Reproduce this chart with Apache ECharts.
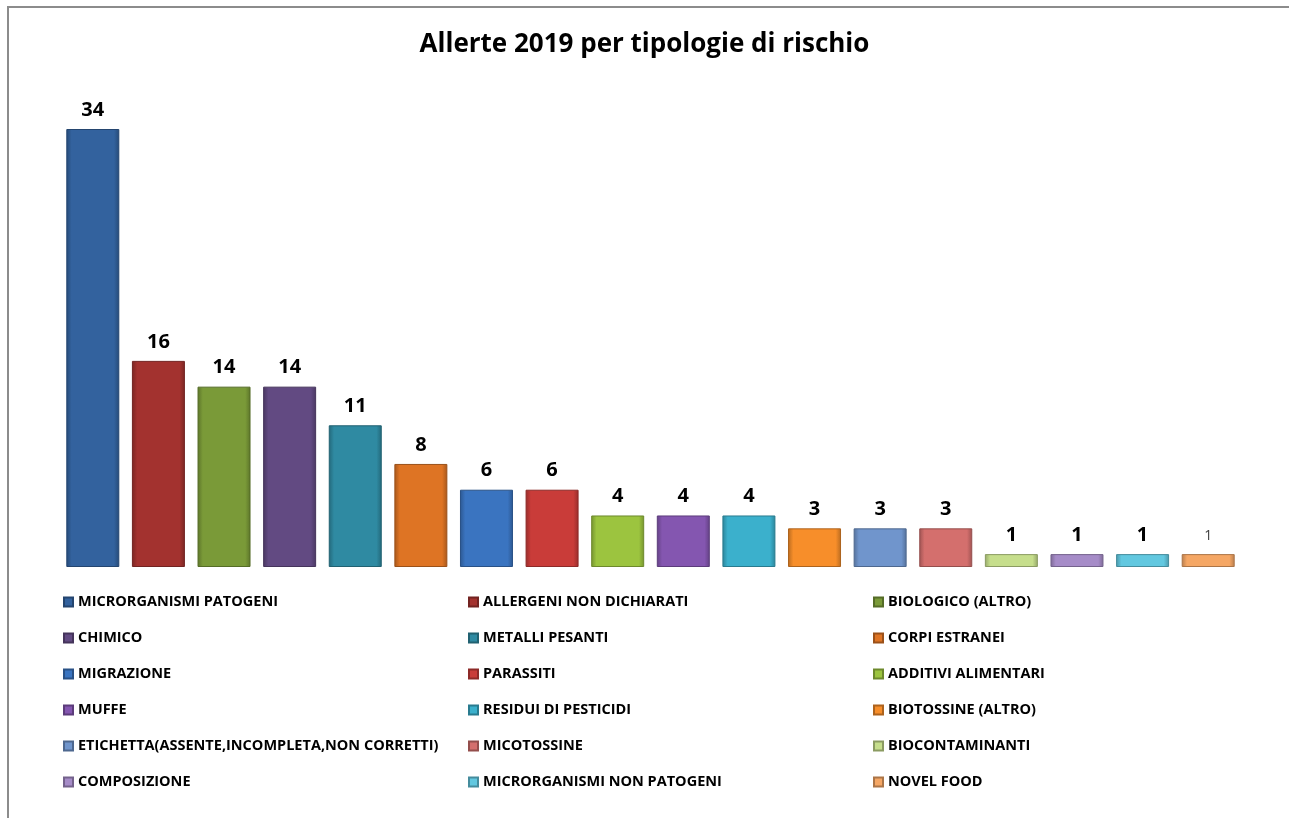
<!DOCTYPE html>
<html>
<head>
<meta charset="utf-8">
<title>Allerte 2019 per tipologie di rischio</title>
<script src="https://cdn.jsdelivr.net/npm/echarts@6/dist/echarts.min.js"></script>
<style>
  html, body { margin: 0; padding: 0; background: #fff; }
  .frame {
    position: absolute;
    left: 7px;
    top: 6px;
    width: 1282px;
    height: 812px;
    border-left: 2px solid #8c8c8c;
    border-top: 2px solid #8c8c8c;
  }
  #chart { position: absolute; left: 0; top: 0; width: 1289px; height: 818px; }
</style>
</head>
<body>
<div class="frame"></div>
<div id="chart"></div>
<script>
const categories = [
  'MICRORGANISMI PATOGENI', 'ALLERGENI NON DICHIARATI', 'BIOLOGICO (ALTRO)',
  'CHIMICO', 'METALLI PESANTI', 'CORPI ESTRANEI',
  'MIGRAZIONE', 'PARASSITI', 'ADDITIVI ALIMENTARI',
  'MUFFE', 'RESIDUI DI PESTICIDI', 'BIOTOSSINE (ALTRO)',
  'ETICHETTA(ASSENTE,INCOMPLETA,NON CORRETTI)', 'MICOTOSSINE', 'BIOCONTAMINANTI',
  'COMPOSIZIONE', 'MICRORGANISMI NON PATOGENI', 'NOVEL FOOD',
]
const values = [34, 16, 14, 14, 11, 8, 6, 6, 4, 4, 4, 3, 3, 3, 1, 1, 1, 1]

const palette = [
  '#33629e', '#a3322f', '#7a9a38', '#624a82', '#2f8aa2', '#de7424',
  '#3a74c0', '#c93c39', '#9cc43f', '#8456b0', '#3bb0cc', '#f78e2a',
  '#7095cc', '#d46f6d', '#c6de8c', '#a68cc8', '#62c8e0', '#f5a765',
]

const shade = (hex, f) => {
  const n = parseInt(hex.slice(1), 16)
  const ch = [(n >> 16) & 255, (n >> 8) & 255, n & 255].map((c) =>
    Math.max(0, Math.min(255, Math.round(f < 0 ? c * (1 + f) : c + (255 - c) * f)))
  )
  return 'rgb(' + ch.join(',') + ')'
}

const barFill = (hex) =>
  new echarts.graphic.LinearGradient(0, 0, 1, 0, [
    { offset: 0, color: shade(hex, -0.25) },
    { offset: 0.1, color: hex },
    { offset: 0.9, color: hex },
    { offset: 1, color: shade(hex, -0.25) },
  ])

const series = categories.map((name, i) => {
  const last = i === categories.length - 1
  return {
    name,
    type: 'bar',
    stack: 'all',
    barWidth: 53,
    data: values.map((v, j) => (j === i ? v : '-')),
    itemStyle: {
      color: barFill(palette[i]),
      borderColor: shade(palette[i], -0.3),
      borderWidth: 1,
    },
    label: {
      show: true,
      position: 'top',
      distance: last ? 11 : 9,
      fontFamily: 'Open Sans',
      fontWeight: last ? 'normal' : 'bold',
      fontSize: last ? 14 : 20,
      color: last ? '#404040' : '#000',
    },
  }
})

const legendColumn = (start, left) => ({
  orient: 'vertical',
  left,
  top: 594,
  padding: 0,
  itemWidth: 9,
  itemHeight: 9,
  itemGap: 20,
  icon: 'rect',
  selectedMode: false,
  data: categories.filter((_, i) => i % 3 === start),
  textStyle: {
    fontFamily: 'Open Sans',
    fontWeight: 'bold',
    fontSize: 14.5,
    lineHeight: 16,
    color: '#000',
  },
})

const chart = echarts.init(document.getElementById('chart'))
chart.setOption({
  animation: false,
  backgroundColor: 'transparent',
  title: {
    text: 'Allerte 2019 per tipologie di rischio',
    left: 'center',
    top: 27,
    textStyle: {
      fontFamily: 'Open Sans',
      fontWeight: 'bold',
      fontSize: 26,
      color: '#000',
    },
  },
  legend: [legendColumn(0, 63), legendColumn(1, 468), legendColumn(2, 873)],
  grid: { left: 60, top: 129, width: 1181, height: 438 },
  xAxis: {
    type: 'category',
    data: categories,
    axisLine: { show: false },
    axisTick: { show: false },
    axisLabel: { show: false },
  },
  yAxis: {
    type: 'value',
    min: 0,
    max: 34,
    show: false,
    splitLine: { show: false },
  },
  series,
})
</script>
</body>
</html>
